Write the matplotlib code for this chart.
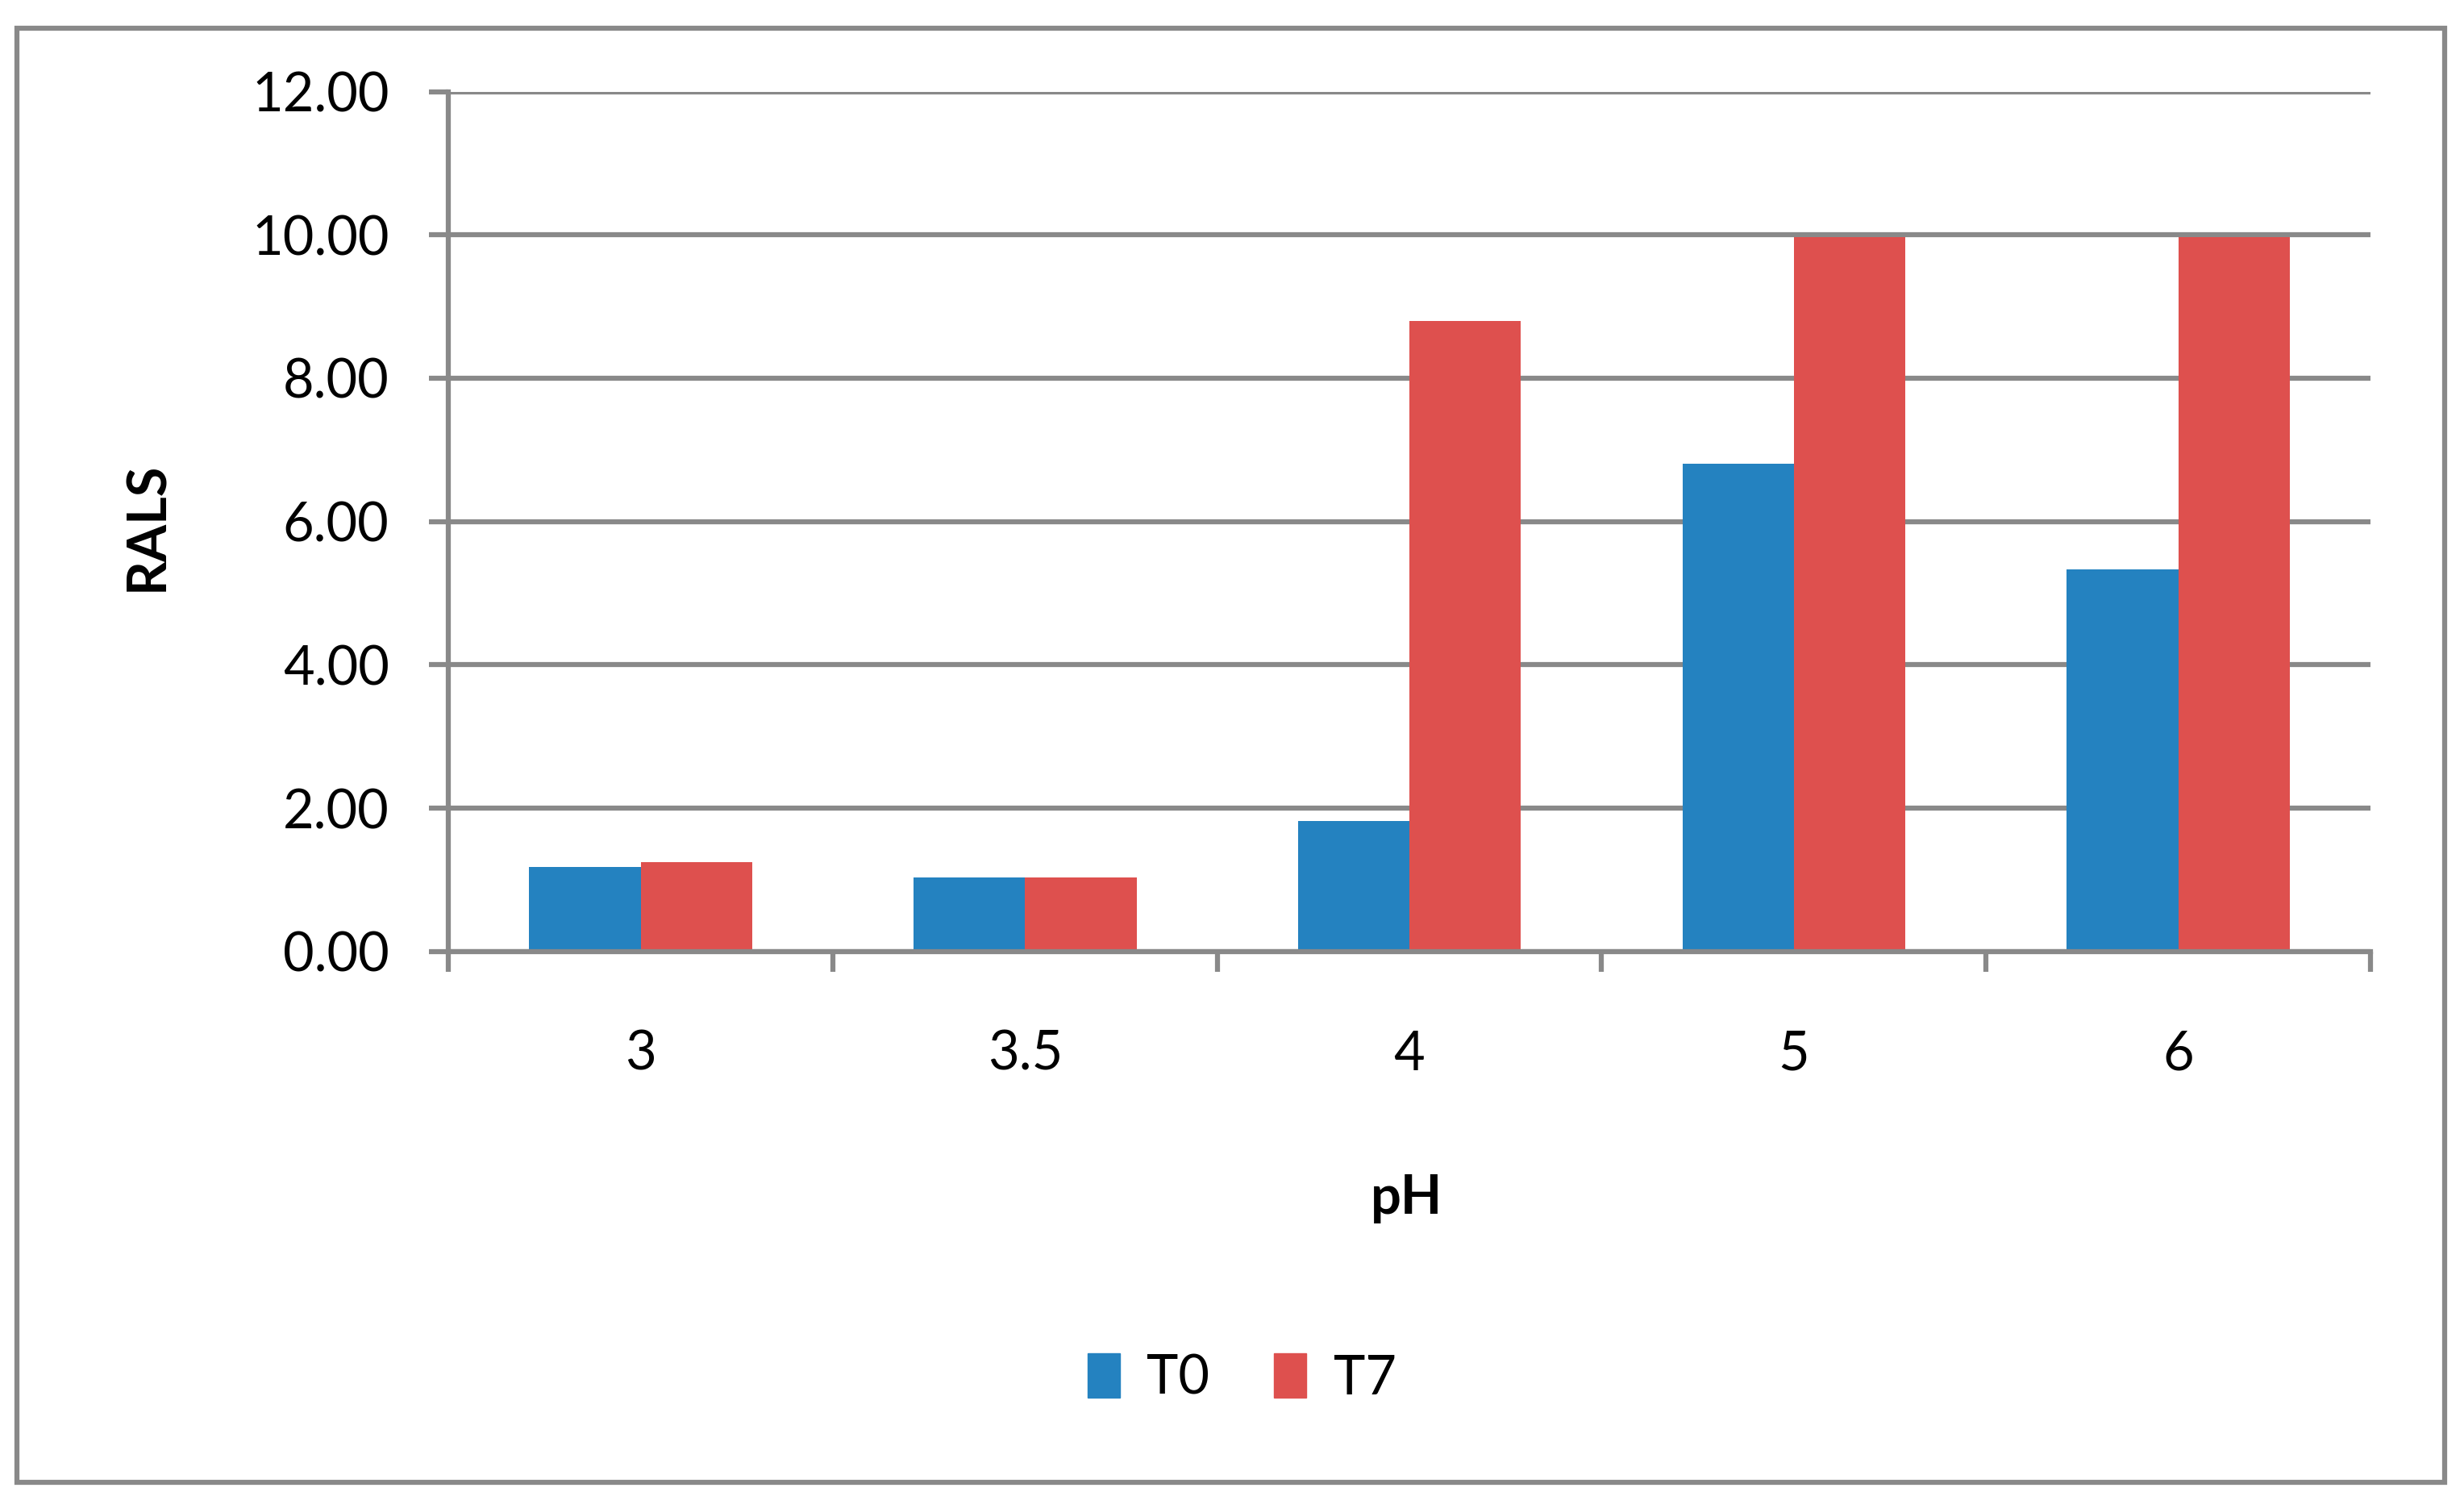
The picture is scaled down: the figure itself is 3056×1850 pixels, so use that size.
import matplotlib
matplotlib.use("Agg")
import matplotlib.pyplot as plt
from matplotlib.patches import Rectangle, Patch
import numpy as np

categories = ["3", "3.5", "4", "5", "6"]
t0_values = [1.18, 1.03, 1.82, 6.81, 5.33]
t7_values = [1.25, 1.03, 8.80, 9.97, 9.97]
series_names = ["T0", "T7"]
y_ticks = [0, 2, 4, 6, 8, 10, 12]
y_tick_labels = ["0.00", "2.00", "4.00", "6.00", "8.00", "10.00", "12.00"]

BLUE = "#2482C0"
RED = "#DE504E"
GREY = "#898989"
FONT = ["Lato", "DejaVu Sans"]
plt.rcParams['font.family'] = FONT

fig = plt.figure(figsize=(30.56, 18.5), dpi=100)
ax = fig.add_axes([0.182, 0.3623, 0.780, 0.5763])

x = np.arange(len(categories))
w = 0.29
ax.bar(x - w / 2, t0_values, width=w, color=BLUE, zorder=3, label=series_names[0])
ax.bar(x + w / 2, t7_values, width=w, color=RED, zorder=3, label=series_names[1])

ax.set_xlim(-0.5, len(categories) - 0.5)
ax.set_ylim(0, 12)
lw = 4.5
ax.set_yticks(y_ticks)
ax.set_yticklabels(y_tick_labels, fontsize=48)
ax.yaxis.grid(True, color=GREY, linewidth=lw, zorder=0)
ax.set_axisbelow(True)

ax.set_xticks(x)
ax.set_xticklabels(categories, fontsize=48)
ax.set_xticks(np.arange(-0.5, len(categories)), minor=True)
ax.tick_params(axis='x', which='major', length=0, pad=70)
ax.tick_params(axis='x', which='minor', length=18, width=lw, color=GREY)
ax.tick_params(axis='y', which='major', length=17, width=lw, color=GREY, pad=36)

for s in ['top', 'right']:
    ax.spines[s].set_visible(False)
for s in ['left', 'bottom']:
    ax.spines[s].set_color(GREY)
    ax.spines[s].set_linewidth(lw)
    ax.spines[s].set_zorder(4)

fig.text(0.571, 0.197, "pH", fontsize=48, fontweight='bold', ha='center', va='center')
fig.text(0.060, 0.647, "RALS", fontsize=48, fontweight='bold', ha='center', va='center', rotation=90)

handles = [Patch(color=BLUE, label=series_names[0]), Patch(color=RED, label=series_names[1])]
fig.legend(handles=handles, loc='center', bbox_to_anchor=(0.504, 0.076), ncol=2,
           frameon=False, fontsize=48, handlelength=0.6, handleheight=0.9,
           handletextpad=0.5, columnspacing=1.2)

fig.patches.append(Rectangle((0.0068, 0.0065), 0.9855, 0.9745, transform=fig.transFigure,
                             fill=False, edgecolor=GREY, linewidth=4.5))

fig.savefig("out.png", dpi=100, facecolor="white")
